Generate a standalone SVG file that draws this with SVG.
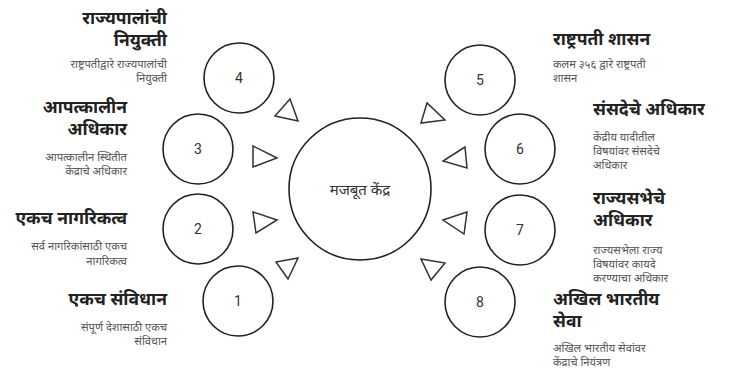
<svg xmlns="http://www.w3.org/2000/svg" width="730" height="371" viewBox="0 0 730 371">
<style>
.c{fill:none;stroke:#222;stroke-width:1.6}
.t{fill:none;stroke:#333;stroke-width:1.5;stroke-linejoin:miter}
.n{font-family:Roboto,"Liberation Sans",sans-serif;font-size:14px;fill:#333;text-anchor:middle}
.h{font-family:"Noto Sans","Noto Sans Devanagari",sans-serif;font-size:17.5px;font-weight:bold;fill:#222}
.s{font-family:"Noto Sans","Noto Sans Devanagari",sans-serif;font-size:11.2px;fill:#555}
.r{text-anchor:end}
.m{font-family:"Noto Sans","Noto Sans Devanagari",sans-serif;font-size:15px;fill:#333;text-anchor:middle}
</style>
<rect width="730" height="371" fill="#fff"/>
<g id="center"><circle class="c" cx="360" cy="189" r="71"/><text class="m" x="360" y="195">मजबूत केंद्र</text></g>
<g id="node1"><circle class="c" cx="238" cy="301" r="35"/><text class="n" x="238" y="306">1</text>
<text class="h r" x="167" y="305">एकच संविधान</text>
<text class="s r" x="167" y="331">संपूर्ण देशासाठी एकच</text><text class="s r" x="167" y="345">संविधान</text></g>
<g id="node2"><circle class="c" cx="198" cy="229" r="35"/><text class="n" x="198" y="234">2</text>
<text class="h r" x="127" y="224">एकच नागरिकत्व</text>
<text class="s r" x="127" y="250">सर्व नागरिकांसाठी एकच</text><text class="s r" x="127" y="265">नागरिकत्व</text></g>
<g id="node3"><circle class="c" cx="198" cy="149" r="35"/><text class="n" x="198" y="154">3</text>
<text class="h r" x="127" y="113">आपत्कालीन</text><text class="h r" x="127" y="135">अधिकार</text>
<text class="s r" x="127" y="161">आपत्कालीन स्थितीत</text><text class="s r" x="127" y="175">केंद्राचे अधिकार</text></g>
<g id="node4"><circle class="c" cx="239" cy="78" r="35"/><text class="n" x="239" y="83">4</text>
<text class="h r" x="167" y="24">राज्यपालांची</text><text class="h r" x="167" y="46">नियुक्ती</text>
<text class="s r" x="167" y="68">राष्ट्रपतीद्वारे राज्यपालांची</text><text class="s r" x="167" y="82">नियुक्ती</text></g>
<g id="node5"><circle class="c" cx="480" cy="80" r="35"/><text class="n" x="480" y="85">5</text>
<text class="h" x="553" y="45">राष्ट्रपती शासन</text>
<text class="s" x="553" y="68">कलम ३५६ द्वारे राष्ट्रपती</text><text class="s" x="553" y="82">शासन</text></g>
<g id="node6"><circle class="c" cx="520" cy="149" r="35"/><text class="n" x="520" y="154">6</text>
<text class="h" x="593" y="115">संसदेचे अधिकार</text>
<text class="s" x="593" y="141">केंद्रीय यादीतील</text><text class="s" x="593" y="155">विषयांवर संसदेचे</text><text class="s" x="593" y="169">अधिकार</text></g>
<g id="node7"><circle class="c" cx="520" cy="230" r="35"/><text class="n" x="520" y="235">7</text>
<text class="h" x="593" y="204">राज्यसभेचे</text><text class="h" x="593" y="226">अधिकार</text>
<text class="s" x="593" y="254">राज्यसभेला राज्य</text><text class="s" x="593" y="268">विषयांवर कायदे</text><text class="s" x="593" y="282">करण्याचा अधिकार</text></g>
<g id="node8"><circle class="c" cx="480" cy="302" r="35"/><text class="n" x="480" y="307">8</text>
<text class="h" x="553" y="305">अखिल भारतीय</text><text class="h" x="553" y="327">सेवा</text>
<text class="s" x="553" y="352">अखिल भारतीय सेवांवर</text><text class="s" x="553" y="366">केंद्राचे नियंत्रण</text></g>
<g id="connectors">
<polygon class="t" points="290,99 275,116 298,121"/>
<polygon class="t" points="253,146 277,158 253,167"/>
<polygon class="t" points="253,212 277,220 256,233"/>
<polygon class="t" points="276,262 298,258 288,279"/>
<polygon class="t" points="427,103 421,123 445,120"/>
<polygon class="t" points="465,147 443,161 467,168"/>
<polygon class="t" points="467,212 443,220 464,234"/>
<polygon class="t" points="421,259 445,263 431,280"/>
</g>
</svg>
